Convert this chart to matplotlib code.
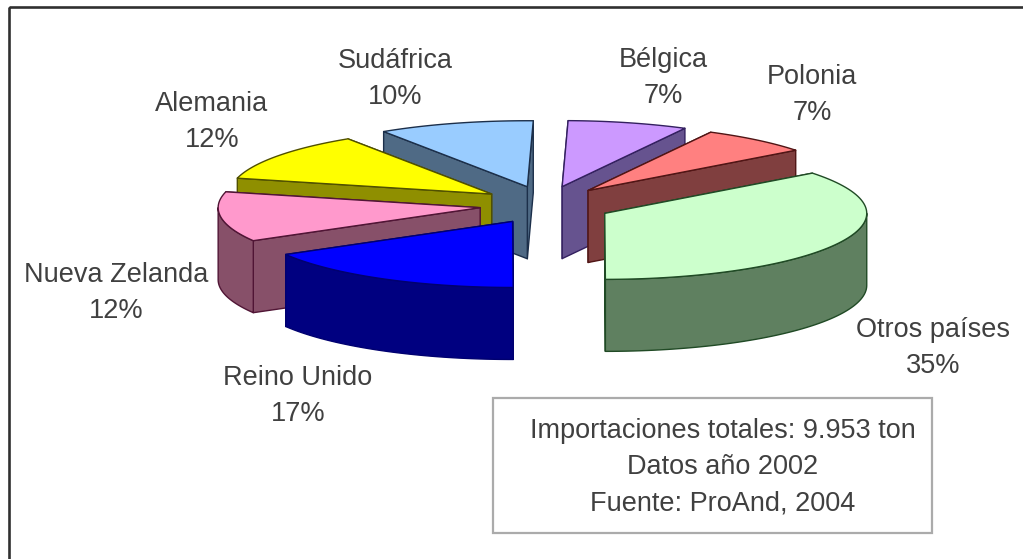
import numpy as np
import matplotlib
matplotlib.use("Agg")
import matplotlib.pyplot as plt
from matplotlib.patches import Polygon, Rectangle

# data (clockwise from the top); shares, labels show them rounded
countries = ["Bélgica", "Polonia", "Otros países", "Reino Unido", "Nueva Zelanda", "Alemania", "Sudáfrica"]
shares = [7.4, 6.8, 35.4, 16.7, 12.2, 11.9, 9.6]
note_lines = ["Importaciones totales: 9.953 ton", "Datos año 2002", "Fuente: ProAnd, 2004"]

# styles
top_colors = ["#CC99FF", "#FF8080", "#CCFFCC", "#0000FF", "#FF99CC", "#FFFF00", "#99CCFF"]
wall_colors = ["#66538F", "#803F3F", "#5F8060", "#000080", "#875069", "#8F8F00", "#4F6A85"]
edge_colors = ["#33205F", "#501515", "#204A25", "#000070", "#501535", "#505000", "#1C2F4A"]
label_centers = [(663, 78), (812, 95), (933, 348), (298, 396), (116, 293), (212, 122), (395, 79)]
draw_order = [6, 5, 4, 3, 0, 1, 2]

CX, CY = 545.5, 205    # pie centre on the canvas
RX, RY = 262, 66       # ellipse radii
EX, EY = 66, 19        # explosion
DEPTH = 72
START = 1.3
TEXT = "#404040"
FONT = "Liberation Sans"
FS = 19.5

fig = plt.figure(figsize=(10.23, 5.59), dpi=100)
ax = fig.add_axes([0, 0, 1, 1])
ax.set_xlim(0, 1023)
ax.set_ylim(559, 0)
ax.axis("off")

# outer frame: only top and left edges fall on the canvas
ax.add_patch(Rectangle((9, 7), 1030, 570, fill=False, ec="#303030", lw=1.9, zorder=1))

def rim(t, ax0, ay0, dz=0.0):
    r = np.radians(t)
    return np.column_stack([ax0 + RX * np.sin(r), ay0 - RY * np.cos(r) + dz])

edges = START + 3.6 * np.concatenate([[0], np.cumsum(shares)])
z = 2
for i in draw_order:
    t0, t1 = edges[i], edges[i + 1]
    mid = np.radians((t0 + t1) / 2)
    ax0 = CX + EX * np.sin(mid)
    ay0 = CY - EY * np.cos(mid)
    style = dict(fc=wall_colors[i], ec=edge_colors[i], lw=1.0, joinstyle="round")
    # cut faces, farther one first
    corners = [rim(np.array([t]), ax0, ay0)[0] for t in (t0, t1)]
    for p in sorted(corners, key=lambda c: c[1]):
        quad = [(ax0, ay0), p, (p[0], p[1] + DEPTH), (ax0, ay0 + DEPTH)]
        ax.add_patch(Polygon(quad, closed=True, zorder=z, **style))
        z += 1
    # outer wall
    a, b = max(t0, 90), min(t1, 270)
    if b > a:
        ts = np.linspace(a, b, 60)
        ax.add_patch(Polygon(np.vstack([rim(ts, ax0, ay0), rim(ts[::-1], ax0, ay0, DEPTH)]),
                             closed=True, zorder=z, **style))
        z += 1
    # top
    ts = np.linspace(t0, t1, 80)
    ax.add_patch(Polygon(np.vstack([[ax0, ay0], rim(ts, ax0, ay0)]), closed=True,
                         fc=top_colors[i], ec=edge_colors[i], lw=1.0, joinstyle="round", zorder=z))
    z += 1

for name, share, (x, y) in zip(countries, shares, label_centers):
    ax.text(x, y, f"{name}\n{round(share)}%", ha="center", va="center", color=TEXT,
            family=FONT, fontsize=FS, linespacing=1.52, zorder=100)

ax.add_patch(Rectangle((493, 398), 439, 135, fc="white", ec="#ABABAB", lw=1.6, zorder=100))
ax.text(723, 467, "\n".join(note_lines), ha="center", va="center", color=TEXT,
        family=FONT, fontsize=FS, linespacing=1.52, zorder=101)

fig.savefig("out.png", dpi=100, facecolor="white")
